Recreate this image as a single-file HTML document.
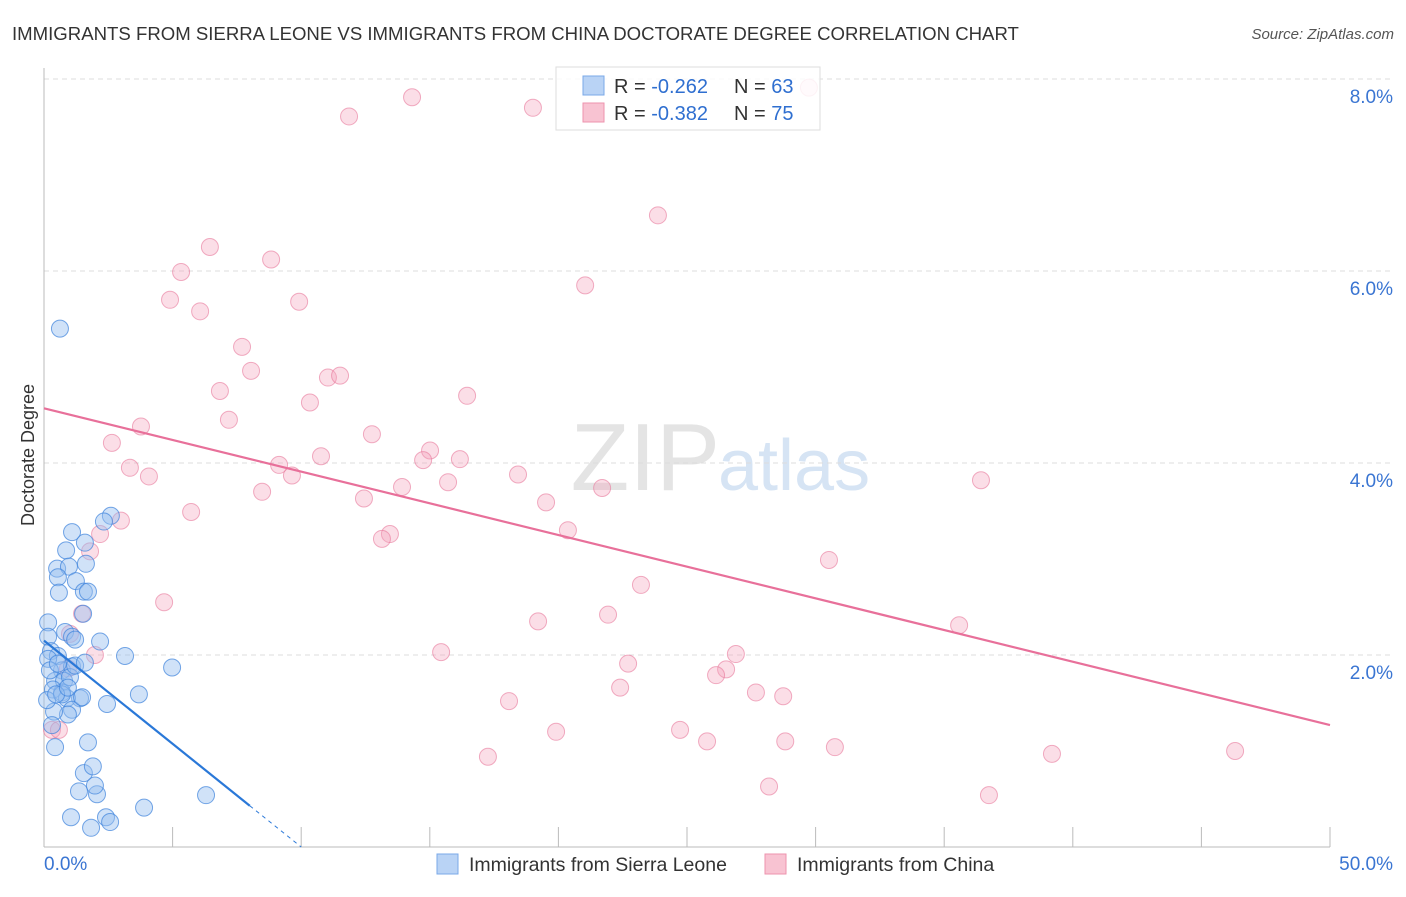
<!DOCTYPE html>
<html><head><meta charset="utf-8"><style>
body{margin:0;background:#fff;font-family:"Liberation Sans",sans-serif;}
svg text{font-family:"Liberation Sans",sans-serif;}
</style></head><body>
<svg id="chart" width="1406" height="892">
<text x="12" y="40" font-size="18.6" fill="#333">IMMIGRANTS FROM SIERRA LEONE VS IMMIGRANTS FROM CHINA DOCTORATE DEGREE CORRELATION CHART</text>
<text x="1394" y="39" font-size="15" fill="#555" text-anchor="end" font-style="italic">Source: ZipAtlas.com</text>
<text x="720" y="490" font-size="96" fill="#e4e4e4" text-anchor="end" font-family="Liberation Serif">ZIP</text>
<text x="718" y="490" font-size="72" fill="#d6e4f4">atlas</text>
<text transform="translate(34,455) rotate(-90)" font-size="18" fill="#333" text-anchor="middle">Doctorate Degree</text>
<g id="grid"></g><g id="axes"></g><g id="pts"></g><g id="lines"></g>
<g>
<rect x="556" y="67" width="264" height="63" fill="rgba(255,255,255,0.85)" stroke="#ddd"/>
<rect x="583" y="76" width="21" height="19" fill="#b9d3f5" stroke="#7aa8e8"/>
<rect x="583" y="103" width="21" height="19" fill="#f8c3d2" stroke="#ee93ae"/>
<text x="614" y="93" font-size="20" fill="#333">R = <tspan fill="#2f6fd0">-0.262</tspan></text>
<text x="734" y="93" font-size="20" fill="#333">N = <tspan fill="#2f6fd0">63</tspan></text>
<text x="614" y="120" font-size="20" fill="#333">R = <tspan fill="#2f6fd0">-0.382</tspan></text>
<text x="734" y="120" font-size="20" fill="#333">N = <tspan fill="#2f6fd0">75</tspan></text>
</g>
<g>
<rect x="437" y="854" width="21" height="20" fill="#b9d3f5" stroke="#7aa8e8"/>
<text x="469" y="871" font-size="19.5" fill="#333">Immigrants from Sierra Leone</text>
<rect x="765" y="854" width="21" height="20" fill="#f8c3d2" stroke="#ee93ae"/>
<text x="797" y="871" font-size="19.5" fill="#333">Immigrants from China</text>
</g>
</svg>
<script>
const xTicks=[0,5,10,15,20,25,30,35,40,45,50];
const yTicks=[2,4,6,8];
const yTickLabels=["2.0%","4.0%","6.0%","8.0%"];
const blueX=[0.62,1.09,0.86,0.51,0.97,0.54,1.24,1.59,1.63,0.58,1.55,1.71,1.52,2.6,2.33,2.18,0.16,0.16,0.27,0.82,1.09,1.21,4.98,3.69,2.45,3.15,0.54,0.7,1.09,0.43,0.78,1.01,1.21,1.4,0.7,0.89,1.09,0.93,0.39,0.31,1.71,0.43,1.55,1.9,2.06,1.98,1.36,1.05,1.83,2.41,2.57,3.89,6.3,0.35,0.16,0.23,0.12,0.54,1.59,0.7,0.47,1.48,0.93];
const blueY=[5.4,3.28,3.09,2.9,2.92,2.81,2.77,3.17,2.95,2.65,2.66,2.66,2.43,3.45,3.39,2.14,2.34,2.19,2.04,2.24,2.19,2.16,1.87,1.59,1.49,1.99,1.99,1.84,1.88,1.73,1.73,1.77,1.89,1.55,1.61,1.55,1.43,1.38,1.41,1.27,1.09,1.04,0.77,0.84,0.55,0.64,0.58,0.31,0.2,0.31,0.26,0.41,0.54,1.64,1.96,1.84,1.53,1.91,1.92,1.59,1.59,1.56,1.66];
const pinkX=[11.86,14.31,19.01,29.74,23.87,6.45,5.33,8.83,4.9,6.07,9.92,21.04,7.7,8.05,6.84,7.19,10.34,11.04,11.51,16.45,3.77,2.64,3.34,4.08,9.14,12.75,15.01,14.74,16.17,10.77,9.64,8.48,15.71,13.92,18.43,12.44,19.52,21.7,36.43,5.72,2.99,2.18,1.79,13.45,13.14,20.37,30.52,23.21,4.67,1.48,19.21,21.93,1.01,35.58,15.44,26.9,22.71,26.52,26.13,27.68,28.74,22.4,18.08,19.91,24.73,25.78,28.82,30.75,39.19,46.31,17.26,28.19,36.74,0.31,1.98,0.93,0.58];
const pinkY=[7.61,7.81,7.7,7.91,6.58,6.25,5.99,6.12,5.7,5.58,5.68,5.85,5.21,4.96,4.75,4.45,4.63,4.89,4.91,4.7,4.38,4.21,3.95,3.86,3.98,4.3,4.13,4.03,4.04,4.07,3.87,3.7,3.8,3.75,3.88,3.63,3.59,3.74,3.82,3.49,3.4,3.26,3.08,3.26,3.21,3.3,2.99,2.73,2.55,2.43,2.35,2.42,2.22,2.31,2.03,2.01,1.91,1.85,1.79,1.61,1.57,1.66,1.52,1.2,1.22,1.10,1.10,1.04,0.97,1.00,0.94,0.63,0.54,1.22,2.0,1.86,1.22];
const pinkTrend=[4.57,-0.066];
const blueTrend=[2.15,-0.215];
const X0=44,X1=1330,Y0=847,PX=(X1-X0)/50,PY=96;
const sx=v=>X0+v*PX, sy=v=>Y0-v*PY;
const NS='http://www.w3.org/2000/svg';
function mk(parent,tag,attrs){const e=document.createElementNS(NS,tag);for(const k in attrs)e.setAttribute(k,attrs[k]);document.getElementById(parent).appendChild(e);return e;}
yTicks.forEach((t,i)=>{
 const g=mk('grid','line',{x1:X0,x2:1393,y1:sy(t),y2:sy(t),stroke:'#ddd','stroke-dasharray':'5,4'});
 
 
 const l=mk('axes','text',{x:1393,y:sy(t)+24,'font-size':19,fill:'#3a75d2','text-anchor':'end'});
 l.textContent=yTickLabels[i];
 
 
});
const ax=mk('axes','line',{x1:X0,x2:X1,y1:Y0,y2:Y0,stroke:'#bbb'});


const ay=mk('axes','line',{x1:X0,x2:X0,y1:68,y2:Y0,stroke:'#bbb'});


xTicks.forEach(t=>{if(t===0)return;
 const k=mk('axes','line',{x1:sx(t),x2:sx(t),y1:Y0-20,y2:Y0,stroke:'#bbb'});
 
 
});
const xl0=mk('axes','text',{x:44,y:870,'font-size':19,fill:'#3a75d2'});xl0.textContent='0.0%';


const xl1=mk('axes','text',{x:1393,y:870,'font-size':19,fill:'#3a75d2','text-anchor':'end'});xl1.textContent='50.0%';


pinkX.forEach((x,i)=>{const c=mk('pts','circle',{cx:sx(x),cy:sy(pinkY[i]),r:8.5,fill:'rgba(244,160,186,0.35)',stroke:'rgba(232,120,155,0.6)','stroke-width':1});
 
 });
blueX.forEach((x,i)=>{const c=mk('pts','circle',{cx:sx(x),cy:sy(blueY[i]),r:8.5,fill:'rgba(150,190,240,0.45)',stroke:'rgba(60,130,220,0.7)','stroke-width':1});
 
 });
const [pa,pb]=pinkTrend;
const pl=mk('lines','line',{x1:sx(0),y1:sy(pa),x2:sx(50),y2:sy(pa+pb*50),stroke:'#e8709a','stroke-width':2.2});


const [ba,bb]=blueTrend;
const bl=mk('lines','line',{x1:sx(0),y1:sy(ba),x2:sx(8),y2:sy(ba+bb*8),stroke:'#2a78d8','stroke-width':2.2});


const xe=Math.min(10,-ba/bb);
const bd=mk('lines','line',{x1:sx(8),y1:sy(ba+bb*8),x2:sx(xe),y2:sy(ba+bb*xe),stroke:'#2a78d8','stroke-width':1,'stroke-dasharray':'4,4'});


</script>
</body></html>
